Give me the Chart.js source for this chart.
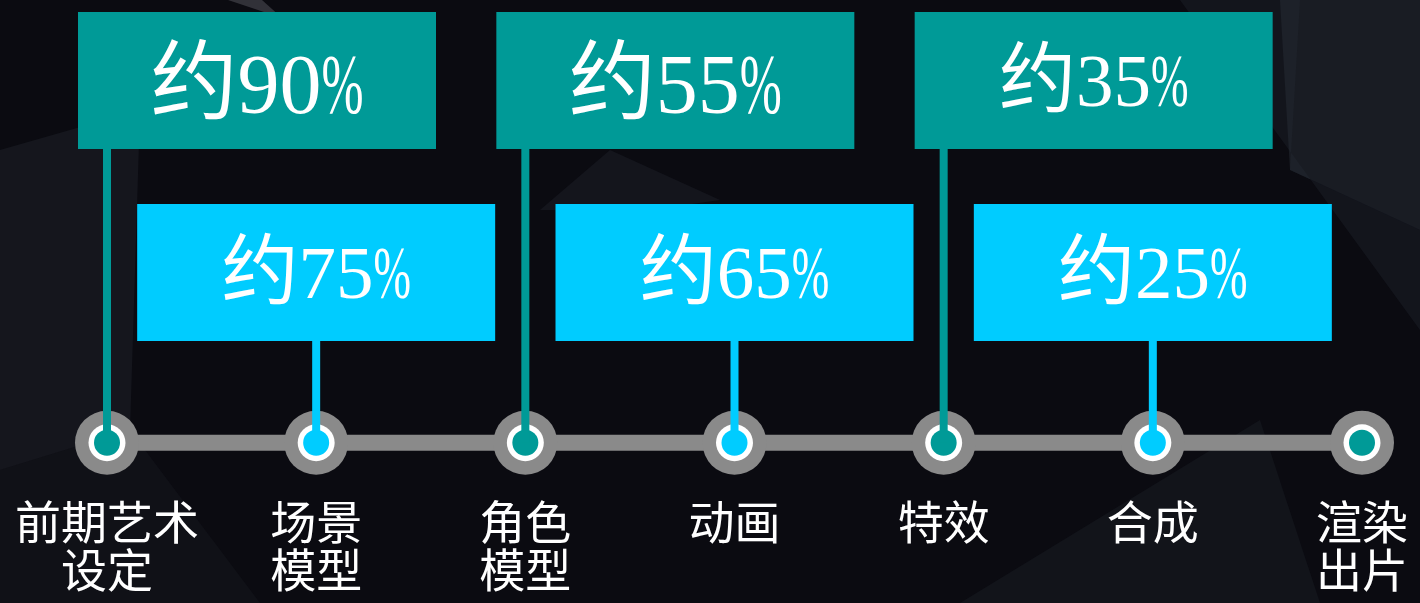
<!DOCTYPE html>
<html>
<head>
<meta charset="utf-8">
<script src="https://cdn.jsdelivr.net/npm/chart.js@4/dist/chart.umd.min.js"></script>
<style>
  html, body { margin: 0; padding: 0; background: #0b0b11; }
  #wrap { width: 1420px; height: 603px; position: relative; }
</style>
</head>
<body>
<div id="wrap"><canvas id="flowChart"></canvas></div>
<script>
// production stages along the timeline
const stages = [['前期艺术', '设定'], ['场景', '模型'], ['角色', '模型'], '动画', '特效', '合成', ['渲染', '出片']];
// "约 x%" figure shown above each stage (last stage has none)
const shares = [90, 75, 55, 65, 35, 25];
const timeline = [0, 0, 0, 0, 0, 0, 0];

const TEAL = '#009a97';
const CYAN = '#00ccff';
const GREY = '#8a8a8a';

// box text size per box (the first two upper boxes are a bit larger)
const boxFont = [84, 75, 84, 75, 75, 75];

// faint polygon backdrop
const backdrop = {
    id: 'backdrop',
    beforeDraw(chart) {
        const c = chart.ctx;
        const polys = [
            ['rgba(60,70,80,0.30)', [[1280, 0], [1420, 0], [1420, 230], [1290, 170]]],
            ['rgba(40,48,56,0.30)', [[1180, 0], [1300, 0], [1290, 170], [1420, 230], [1420, 330]]],
            ['rgba(50,56,64,0.26)', [[0, 150], [140, 110], [130, 430], [0, 470]]],
            ['rgba(120,120,130,0.35)', [[228, 0], [262, 0], [282, 18]]],
            ['rgba(45,52,60,0.26)', [[540, 210], [610, 150], [720, 200], [650, 210]]],
            ['rgba(40,46,54,0.26)', [[960, 603], [1260, 420], [1320, 603]]],
            ['rgba(30,36,44,0.26)', [[0, 470], [130, 430], [260, 603], [0, 603]]]
        ];
        c.save();
        polys.forEach(([fill, pts]) => {
            c.beginPath();
            pts.forEach(([px, py], k) => k ? c.lineTo(px, py) : c.moveTo(px, py));
            c.closePath();
            c.fillStyle = fill;
            c.fill();
        });
        c.restore();
    }
};

// percentage boxes with stems down to each node
const shareBoxes = {
    id: 'shareBoxes',
    afterDatasetsDraw(chart) {
        const c = chart.ctx;
        const xs = chart.scales.x;
        const y0 = chart.scales.y.getPixelForValue(0);
        const w = 358, h = 137;
        c.save();
        shares.forEach((v, i) => {
            const cx = xs.getPixelForValue(i);
            const upper = i % 2 === 0;
            const color = upper ? TEAL : CYAN;
            const top = upper ? 12 : 204;
            const left = upper ? cx - 29 : cx - w / 2;

            c.fillStyle = color;
            c.fillRect(cx - 4, top + h - 1, 8, y0 - top - h + 1);
            c.fillRect(left, top, w, h);

            const fs = boxFont[i];
            const digits = String(v);
            c.font = Math.round(fs * 1.03) + 'px "Noto Sans CJK SC"';
            const wa = c.measureText('约').width;
            c.font = fs + 'px "Liberation Serif"';
            const wd = c.measureText(digits).width;
            const wpRaw = c.measureText('%').width;
            const wp = fs * 0.5;
            const total = wa + wd + wp;
            let x = left + w / 2 - total / 2;
            const base = top + h / 2 + (fs > 80 ? 32 : 25);

            c.fillStyle = '#ffffff';
            c.textBaseline = 'alphabetic';
            c.textAlign = 'left';
            c.font = Math.round(fs * 1.03) + 'px "Noto Sans CJK SC"';
            c.fillText('约', x, base);
            x += wa;
            c.font = fs + 'px "Liberation Serif"';
            c.fillText(digits, x, base);
            x += wd;
            c.save();
            c.translate(x, base);
            c.scale(wp / wpRaw, 1);
            c.fillText('%', 0, 0);
            c.restore();
        });
        c.restore();
    }
};

new Chart(document.getElementById('flowChart'), {
    type: 'line',
    data: {
        labels: stages,
        datasets: [
            {
                // node centre
                data: timeline,
                showLine: false,
                pointRadius: 13,
                pointHoverRadius: 13,
                pointBorderWidth: 0,
                pointBackgroundColor: stages.map((s, i) => i % 2 === 0 ? TEAL : CYAN),
                clip: false
            },
            {
                // white ring
                data: timeline,
                showLine: false,
                pointRadius: 18.5,
                pointHoverRadius: 18.5,
                pointBorderWidth: 0,
                pointBackgroundColor: '#ffffff',
                clip: false
            },
            {
                // grey track and outer discs
                data: timeline,
                borderColor: GREY,
                borderWidth: 16,
                pointRadius: 32,
                pointHoverRadius: 32,
                pointBorderWidth: 0,
                pointBackgroundColor: GREY,
                clip: false
            }
        ]
    },
    options: {
        responsive: true,
        maintainAspectRatio: false,
        animation: false,
        events: [],
        layout: {
            padding: { left: 107, right: 58, top: 392, bottom: 8 }
        },
        plugins: {
            legend: { display: false },
            tooltip: { enabled: false }
        },
        scales: {
            x: {
                offset: false,
                grid: { display: false, drawTicks: false },
                border: { display: false },
                ticks: {
                    color: '#ffffff',
                    padding: 4,
                    autoSkip: false,
                    maxRotation: 0,
                    minRotation: 0,
                    font: { family: '"Noto Sans CJK SC"', size: 46, lineHeight: 1.05 }
                }
            },
            y: {
                display: false,
                min: -1,
                max: 1
            }
        }
    },
    plugins: [backdrop, shareBoxes]
});
</script>
</body>
</html>
